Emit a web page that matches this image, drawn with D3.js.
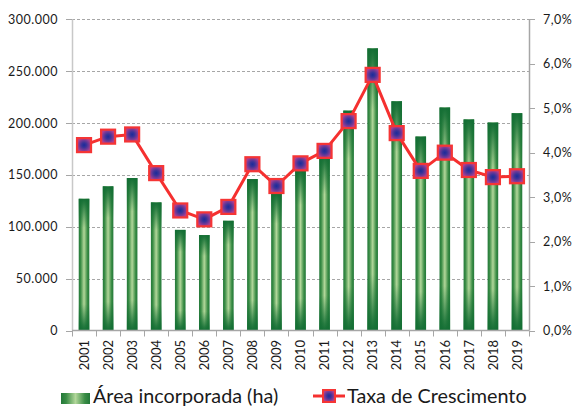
<!DOCTYPE html>
<html>
<head>
<meta charset="utf-8">
<script src="https://cdn.jsdelivr.net/npm/d3@7"></script>
<style>
  html, body { margin: 0; padding: 0; background: #fff; }
  svg { display: block; }
  text { font-family: Lato, "Open Sans", "Liberation Sans", sans-serif; fill: #1a1a1a; }
</style>
</head>
<body>
<svg id="chart" width="574" height="406"></svg>
<script>
// Área incorporada (ha) por ano e taxa de crescimento
const years = ["2001","2002","2003","2004","2005","2006","2007","2008","2009","2010",
               "2011","2012","2013","2014","2015","2016","2017","2018","2019"];
const area = [127000, 139000, 147000, 123500, 97000, 92000, 105800, 146000, 132000, 155000,
              168000, 212000, 272000, 221000, 187000, 215000, 203500, 200500, 209500];
const taxa = [0.0417, 0.0436, 0.0441, 0.0354, 0.0270, 0.0250, 0.0278, 0.0374, 0.0325, 0.0376,
              0.0404, 0.0471, 0.0575, 0.0444, 0.0359, 0.0400, 0.0361, 0.0345, 0.0347];
const areaTicks = [0, 50000, 100000, 150000, 200000, 250000, 300000];
const taxaTicks = [0, 0.01, 0.02, 0.03, 0.04, 0.05, 0.06, 0.07];
const legendLabels = ["Área incorporada (ha)", "Taxa de Crescimento"];

const ptBR = d3.formatLocale({ decimal: ",", thousands: ".", grouping: [3], currency: ["R$", ""] });
const fmtArea = ptBR.format(",.0f");
const fmtTaxa = ptBR.format(".1%");

const svg = d3.select("#chart");
const plot = { left: 72, right: 529, top: 19.3, bottom: 330.5 };

const x = d3.scaleBand().domain(years).range([plot.left, plot.right])
  .paddingInner(0.56).paddingOuter(0.28);
const yL = d3.scaleLinear().domain([0, 300000]).range([plot.bottom, plot.top]);
const yR = d3.scaleLinear().domain([0, 0.07]).range([plot.bottom, plot.top]);

// gradients
const defs = svg.append("defs");
const gH = defs.append("linearGradient").attr("id", "barH")
  .attr("x1", 0).attr("x2", 1).attr("y1", 0).attr("y2", 0);
[[0, "#227838"], [0.18, "#3b8d46"], [0.5, "#b2d79a"], [0.82, "#3b8d46"], [1, "#227838"]]
  .forEach(([o, c]) => gH.append("stop").attr("offset", o).attr("stop-color", c));
const gV = defs.append("linearGradient").attr("id", "barV")
  .attr("x1", 0).attr("x2", 0).attr("y1", 0).attr("y2", 1);
[[0, 1], [0.04, 0.85], [0.22, 0], [0.8, 0], [0.96, 0.85], [1, 1]]
  .forEach(([o, a]) => gV.append("stop").attr("offset", o)
    .attr("stop-color", "#136e34").attr("stop-opacity", a));
const gM = defs.append("radialGradient").attr("id", "mark");
[[0, "#1c2a9a"], [0.35, "#3a3399"], [0.75, "#7d3a95"], [1, "#b03e8e"]]
  .forEach(([o, c]) => gM.append("stop").attr("offset", o).attr("stop-color", c));

// gridlines
svg.append("g").selectAll("line").data(areaTicks.slice(1)).join("line")
  .attr("x1", plot.left).attr("x2", plot.right)
  .attr("y1", d => Math.round(yL(d)) + 0.5).attr("y2", d => Math.round(yL(d)) + 0.5)
  .attr("stroke", "#a6a6a6").attr("stroke-width", 1).attr("stroke-dasharray", "3,2");

// bars
const bars = svg.append("g");
bars.selectAll("rect.b").data(years).join("rect").attr("class", "b")
  .attr("x", d => x(d)).attr("width", x.bandwidth())
  .attr("y", (d, i) => yL(area[i])).attr("height", (d, i) => yL(0) - yL(area[i]))
  .attr("fill", "url(#barH)");
bars.selectAll("rect.s").data(years).join("rect").attr("class", "s")
  .attr("x", d => x(d)).attr("width", x.bandwidth())
  .attr("y", (d, i) => yL(area[i])).attr("height", (d, i) => yL(0) - yL(area[i]))
  .attr("fill", "url(#barV)");

// axes
const axisColor = "#a6a6a6";
const ax = svg.append("g");
ax.append("line").attr("x1", plot.left + 0.5).attr("x2", plot.left + 0.5)
  .attr("y1", plot.top).attr("y2", plot.bottom).attr("stroke", "#c8c8c8").attr("stroke-width", 1.5);
ax.selectAll("line.tl").data(areaTicks).join("line").attr("class", "tl")
  .attr("x1", plot.left - 6).attr("x2", plot.left)
  .attr("y1", d => Math.round(yL(d)) + 0.5).attr("y2", d => Math.round(yL(d)) + 0.5)
  .attr("stroke", axisColor);
ax.selectAll("text.tl").data(areaTicks).join("text").attr("class", "tl")
  .attr("x", 58).attr("y", d => yL(d)).attr("dy", "0.36em")
  .attr("text-anchor", "end").style("font-size", "12.5px").style("letter-spacing", "0.5px")
  .text(d => fmtArea(d));

ax.append("line").attr("x1", plot.right + 0.5).attr("x2", plot.right + 0.5)
  .attr("y1", plot.top).attr("y2", plot.bottom).attr("stroke", axisColor).attr("stroke-width", 1.5);
ax.selectAll("line.tr").data(taxaTicks).join("line").attr("class", "tr")
  .attr("x1", plot.right).attr("x2", plot.right + 6)
  .attr("y1", d => Math.round(yR(d)) + 0.5).attr("y2", d => Math.round(yR(d)) + 0.5)
  .attr("stroke", axisColor);
ax.selectAll("text.tr").data(taxaTicks).join("text").attr("class", "tr")
  .attr("x", 543).attr("y", d => yR(d)).attr("dy", "0.36em")
  .style("font-size", "12.5px").style("letter-spacing", "0.5px")
  .text(d => fmtTaxa(d));

ax.append("line").attr("x1", plot.left).attr("x2", plot.right)
  .attr("y1", plot.bottom).attr("y2", plot.bottom).attr("stroke", axisColor).attr("stroke-width", 1.5);
const bounds = years.map(d => x(d) - x.step() * x.paddingInner() / 2).concat([plot.right]);
ax.selectAll("line.tx").data(bounds).join("line").attr("class", "tx")
  .attr("x1", d => Math.round(d) + 0.5).attr("x2", d => Math.round(d) + 0.5)
  .attr("y1", plot.bottom).attr("y2", plot.bottom + 6).attr("stroke", axisColor);
ax.selectAll("text.tx").data(years).join("text").attr("class", "tx")
  .attr("transform", d => `translate(${x(d) + x.bandwidth() / 2},340) rotate(-90)`)
  .attr("dy", "0.36em").attr("text-anchor", "end").style("font-size", "13px")
  .text(d => d);

// line series
const line = d3.line().x((d, i) => x(years[i]) + x.bandwidth() / 2).y(d => yR(d));
svg.append("path").datum(taxa).attr("d", line)
  .attr("fill", "none").attr("stroke", "#f5302f").attr("stroke-width", 3)
  .attr("stroke-linejoin", "round");
const ms = 14;
svg.append("g").selectAll("rect").data(taxa).join("rect")
  .attr("x", (d, i) => x(years[i]) + x.bandwidth() / 2 - ms / 2)
  .attr("y", d => yR(d) - ms / 2).attr("width", ms).attr("height", ms)
  .attr("fill", "url(#mark)").attr("stroke", "#f53535").attr("stroke-width", 2.2);

// legend
const lg = svg.append("g");
lg.append("rect").attr("x", 61).attr("y", 393).attr("width", 29).attr("height", 11)
  .attr("fill", "url(#barH)");
lg.append("text").attr("x", 93).attr("y", 403).style("font-size", "19.8px").text(legendLabels[0]);
lg.append("line").attr("x1", 313).attr("x2", 345).attr("y1", 396).attr("y2", 396)
  .attr("stroke", "#f5302f").attr("stroke-width", 3);
lg.append("rect").attr("x", 323).attr("y", 390).attr("width", 12).attr("height", 12)
  .attr("fill", "url(#mark)").attr("stroke", "#f53535").attr("stroke-width", 2);
lg.append("text").attr("x", 347).attr("y", 403).style("font-size", "19.8px").text(legendLabels[1]);
</script>
</body>
</html>
